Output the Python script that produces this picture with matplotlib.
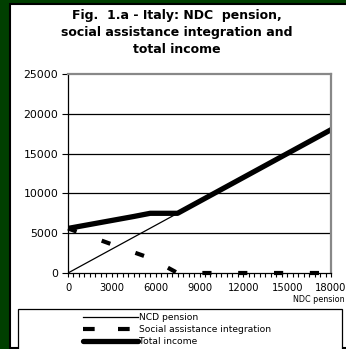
import matplotlib
matplotlib.use("Agg")
from matplotlib import pyplot as plt
from matplotlib.patches import Rectangle
from matplotlib.lines import Line2D
import numpy as np

# NDC pension levels (x axis) and the income components at each level
ndc = [0, 1500, 3000, 4500, 5625, 6000, 7500, 9000, 10500, 12000, 13500, 15000, 16500, 18000]
pension = [0, 1500, 3000, 4500, 5625, 6000, 7500, 9000, 10500, 12000, 13500, 15000, 16500, 18000]
social = [5600, 4600, 3600, 2600, 1875, 1500, 0, 0, 0, 0, 0, 0, 0, 0]
total = [5600, 6100, 6600, 7100, 7500, 7500, 7500, 9000, 10500, 12000, 13500, 15000, 16500, 18000]

xticks = [0, 3000, 6000, 9000, 12000, 15000, 18000]
yticks = [0, 5000, 10000, 15000, 20000, 25000]

W, H = 346, 349
fig = plt.figure(figsize=(W / 100, H / 100), dpi=100, facecolor="#003f00")


def px(x, y):
    return x / W, 1 - y / H


# white panel with a black edge
fig.patches.append(Rectangle((10 / W, 1 / H), 1, 1 - 4.5 / H, transform=fig.transFigure,
                             facecolor="white", edgecolor="black", linewidth=1.5, zorder=-5))

fig.text(177 / W, 1 - 9 / H, "Fig.  1.a - Italy: NDC  pension,\nsocial assistance integration and\ntotal income",
         ha="center", va="top", fontsize=9, fontweight="bold", linespacing=1.42)

ax = fig.add_axes([68 / W, 76 / H, 263 / W, 199 / H])
ax.set_facecolor("white")
ax.plot(ndc, pension, color="black", lw=0.9)
ax.plot(ndc, social, color="black", lw=3.0, dashes=(2.2, 6.4), dash_capstyle="butt", clip_on=False)
ax.plot(ndc, total, color="black", lw=3.8, solid_joinstyle="round")

ax.set_xlim(0, 18000)
ax.set_ylim(0, 25000)
ax.set_xticks(xticks)
ax.set_xticks(np.arange(0, 18001, 375), minor=True)
ax.set_yticks(yticks)
ax.tick_params(axis="x", which="both", length=3, width=0.8, pad=4, labelsize=7.2, direction="out")
ax.tick_params(axis="y", length=4, width=0.8, pad=3, labelsize=7.8)
for y in yticks[1:-1]:
    ax.axhline(y, color="black", lw=0.9, zorder=1)
for s in ["top", "right"]:
    ax.spines[s].set_color("#888888")
    ax.spines[s].set_linewidth(1.6)
for s in ["left", "bottom"]:
    ax.spines[s].set_color("black")
    ax.spines[s].set_linewidth(0.9)

fig.text(345 / W, 1 - 299 / H, "NDC pension", ha="right", va="center", fontsize=5.8)

# legend box
fig.patches.append(Rectangle((18 / W, -0.05), 324 / W, (349 - 309) / H + 0.05, transform=fig.transFigure,
                             facecolor="white", edgecolor="black", linewidth=0.9, zorder=1))
handles = [
    Line2D([], [], color="black", lw=0.9),
    Line2D([], [], color="black", lw=3.0, dashes=(2.8, 5.6), dash_capstyle="butt"),
    Line2D([], [], color="black", lw=3.8, solid_capstyle="round"),
]
labels = ["NCD pension", "Social assistance integration", "Total income"]
fig.legend(handles, labels, loc="upper left", bbox_to_anchor=px(76, 306), frameon=False,
           fontsize=6.6, handlelength=6.0, handletextpad=0.1, labelspacing=0.3, borderpad=0.3)

fig.savefig("out.png", dpi=100, facecolor=fig.get_facecolor())
